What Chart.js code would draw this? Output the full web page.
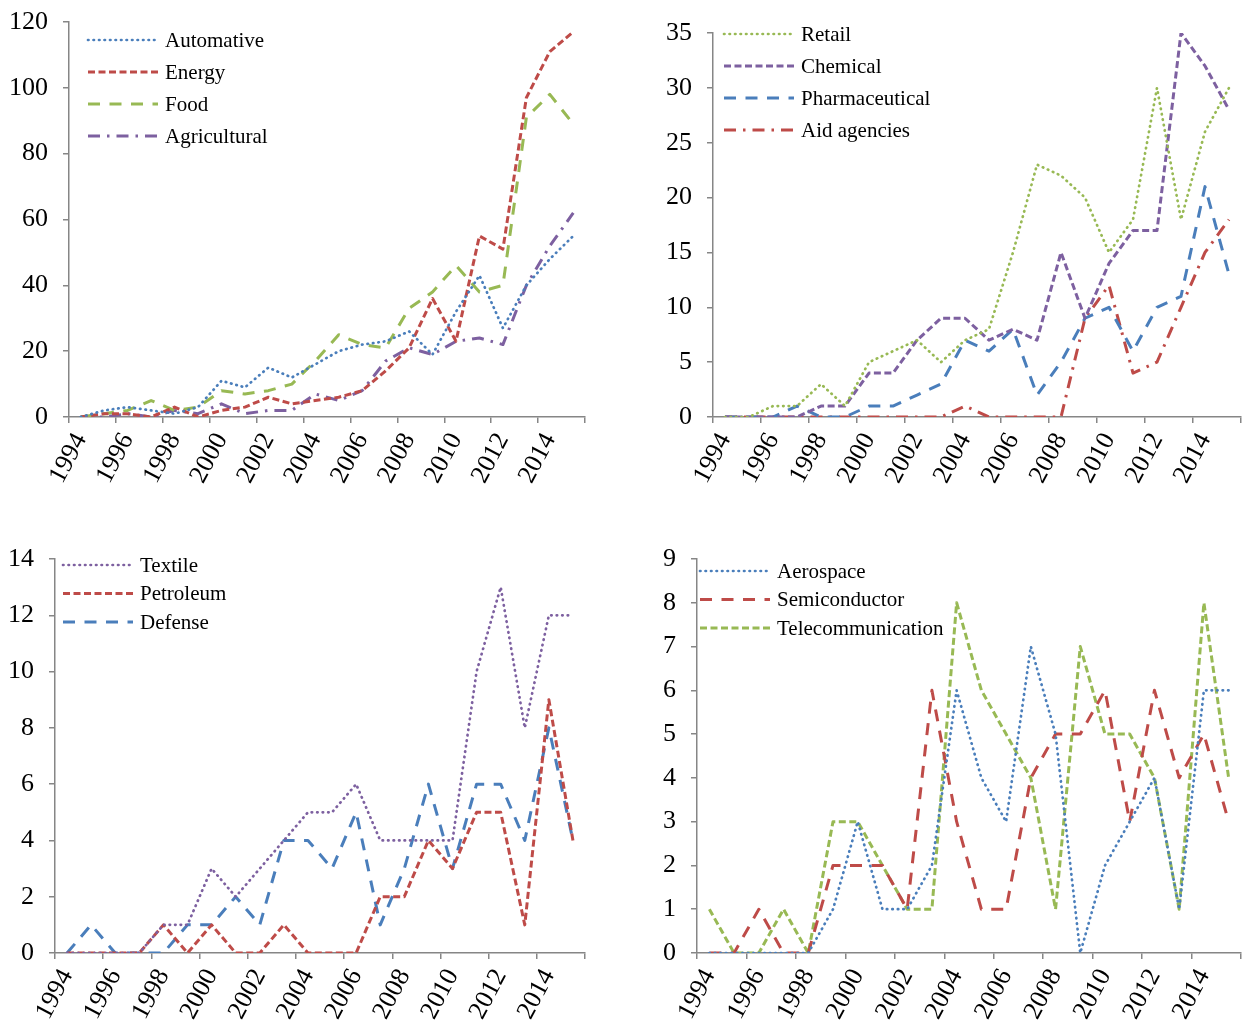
<!DOCTYPE html>
<html>
<head>
<meta charset="utf-8">
<script src="https://cdn.jsdelivr.net/npm/chart.js@4.4.1/dist/chart.umd.min.js"></script>
<style>
  body { margin: 0; background: #fff; }
  #wrap { position: relative; width: 1242px; height: 1023px; overflow: hidden; background: #fff; }
  canvas { position: absolute; }
</style>
</head>
<body>
<div id="wrap">
  <canvas id="c1" width="600" height="505" style="left:0;top:0"></canvas>
  <canvas id="c2" width="641" height="505" style="left:621px;top:0"></canvas>
  <canvas id="c3" width="600" height="503" style="left:0;top:520px"></canvas>
  <canvas id="c4" width="641" height="503" style="left:621px;top:520px"></canvas>
</div>
<script>
const years = ['1994','1995','1996','1997','1998','1999','2000','2001','2002','2003','2004',
  '2005','2006','2007','2008','2009','2010','2011','2012','2013','2014','2015'];

// panel 1
const automative   = [0,2,3,2,1,3,11,9,15,12,16,20,22,23,26,19,32,43,27,40,48,55];
const energy       = [0,1,1,0,3,0,2,3,6,4,5,6,8,14,21,36,23,55,51,97,111,117];
const food         = [0,1,2,5,2,3,8,7,8,10,17,25,22,21,33,38,46,38,40,91,98,89];
const agricultural = [0,0,1,0,2,1,4,1,2,2,7,5,8,17,21,19,23,24,22,40,52,62];

// panel 2
const retail         = [0,0,1,1,3,1,5,6,7,5,7,8,15,23,22,20,15,18,30,18,26,30];
const chemical       = [0,0,0,0,1,1,4,4,7,9,9,7,8,7,15,9,14,17,17,35,32,28];
const pharmaceutical = [0,0,0,1,0,0,1,1,2,3,7,6,8,2,5,9,10,6,10,11,21,13];
const aidAgencies    = [0,0,0,0,0,0,0,0,0,0,1,0,0,0,0,9,12,4,5,10,15,18];

// panel 3
const textile   = [0,0,0,0,1,1,3,2,3,4,5,5,6,4,4,4,4,10,13,8,12,12];
const petroleum = [0,0,0,0,1,0,1,0,0,1,0,0,0,2,2,4,3,5,5,1,9,4];
const defense   = [0,1,0,0,0,1,1,2,1,4,4,3,5,1,3,6,3,6,6,4,8,4];

// panel 4
const aerospace        = [0,0,0,0,0,1,3,1,1,2,6,4,3,7,5,0,2,3,4,1,6,6];
const semiconductor    = [0,0,1,0,0,2,2,2,1,6,3,1,1,4,5,5,6,3,6,4,5,3];
const telecommunication = [1,0,0,1,0,3,3,2,1,1,8,6,5,4,1,7,5,5,4,1,8,4];

const BLUE = '#4A7EBB', RED = '#BE4B48', GREEN = '#98B954', PURPLE = '#7D60A0';
const GRAY = '#868686';
const FONT = 'Liberation Serif';

// excel-ish line styles
const dotted   = { dash: [0.5, 5], cap: 'round', width: 2.7 };
const shortDash = { dash: [7, 3.5], cap: 'butt', width: 3 };
const longDash = { dash: [12, 9.5], cap: 'butt', width: 3 };
const dashDot  = { dash: [12, 7, 2.5, 7], cap: 'butt', width: 3 };

function ds(label, data, color, style) {
  return {
    label, data,
    borderColor: color,
    borderWidth: style.width,
    borderDash: style.dash,
    borderCapStyle: style.cap,
    borderJoinStyle: 'round',
    pointRadius: 0,
    tension: 0,
    fill: false
  };
}

// legend drawn inside the plot area, like the excel original
function insideLegend(leg) {
  return {
    id: 'insideLegend',
    afterDraw(chart) {
      const c = chart.ctx;
      const a = chart.chartArea;
      chart.data.datasets.forEach((d, i) => {
        const x = a.left + leg.dx;
        const y = a.top + leg.dy + i * leg.gap;
        c.save();
        c.strokeStyle = d.borderColor;
        c.lineWidth = d.borderWidth;
        c.lineCap = d.borderCapStyle;
        c.setLineDash(d.borderDash);
        c.beginPath();
        c.moveTo(x, y);
        c.lineTo(x + 70, y);
        c.stroke();
        c.setLineDash([]);
        c.fillStyle = '#000';
        c.font = '21px "' + FONT + '"';
        c.textBaseline = 'middle';
        c.fillText(d.label, x + 77, y + 1);
        c.restore();
      });
    }
  };
}

function panel(id, datasets, yMax, step, box, leg) {
  new Chart(document.getElementById(id), {
    type: 'line',
    data: { labels: years, datasets },
    options: {
      responsive: false,
      animation: false,
      layout: { padding: { top: box.top, right: box.right, left: 0, bottom: 0 } },
      plugins: { legend: { display: false }, tooltip: { enabled: false } },
      scales: {
        x: {
          offset: true,
          grid: {
            offset: true,
            drawOnChartArea: false,
            tickLength: 6,
            lineWidth: 1.5,
            color: c => (c.index === undefined || c.index % 2 === 0) ? GRAY : 'rgba(0,0,0,0)'
          },
          border: { color: GRAY, width: 1.5 },
          ticks: {
            autoSkip: false,
            minRotation: 62,
            maxRotation: 62,
            padding: 5,
            color: '#000',
            font: { family: FONT, size: 26 },
            callback: (v, i) => i % 2 === 0 ? years[i] : ''
          },
          afterFit: s => { s.height = box.xh; s.paddingLeft = 0; s.paddingRight = 0; }
        },
        y: {
          min: 0,
          max: yMax,
          grid: { drawOnChartArea: false, tickLength: 6, lineWidth: 1.5, color: GRAY },
          border: { color: GRAY, width: 1.5 },
          ticks: { stepSize: step, padding: 15, color: '#000', font: { family: FONT, size: 26 } },
          afterFit: s => { s.width = box.yw; s.paddingTop = 0; s.paddingBottom = 0; }
        }
      }
    },
    plugins: [insideLegend(leg)]
  });
}

panel('c1', [
  ds('Automative', automative, BLUE, dotted),
  ds('Energy', energy, RED, shortDash),
  ds('Food', food, GREEN, longDash),
  ds('Agricultural', agricultural, PURPLE, dashDot)
], 120, 20, { top: 22, right: 15, yw: 69, xh: 88 }, { dx: 19, dy: 18, gap: 32 });

panel('c2', [
  ds('Retail', retail, GREEN, dotted),
  ds('Chemical', chemical, PURPLE, shortDash),
  ds('Pharmaceutical', pharmaceutical, BLUE, longDash),
  ds('Aid agencies', aidAgencies, RED, dashDot)
], 35, 5, { top: 33, right: 21, yw: 92, xh: 88 }, { dx: 11, dy: 1, gap: 32 });

panel('c3', [
  ds('Textile', textile, PURPLE, dotted),
  ds('Petroleum', petroleum, RED, shortDash),
  ds('Defense', defense, BLUE, longDash)
], 14, 2, { top: 39, right: 15, yw: 55, xh: 70 }, { dx: 8, dy: 6, gap: 28.5 });

panel('c4', [
  ds('Aerospace', aerospace, BLUE, dotted),
  ds('Semiconductor', semiconductor, RED, longDash),
  ds('Telecommunication', telecommunication, GREEN, shortDash)
], 9, 1, { top: 39, right: 21, yw: 76, xh: 70 }, { dx: 3, dy: 12, gap: 28.5 });
</script>
</body>
</html>
